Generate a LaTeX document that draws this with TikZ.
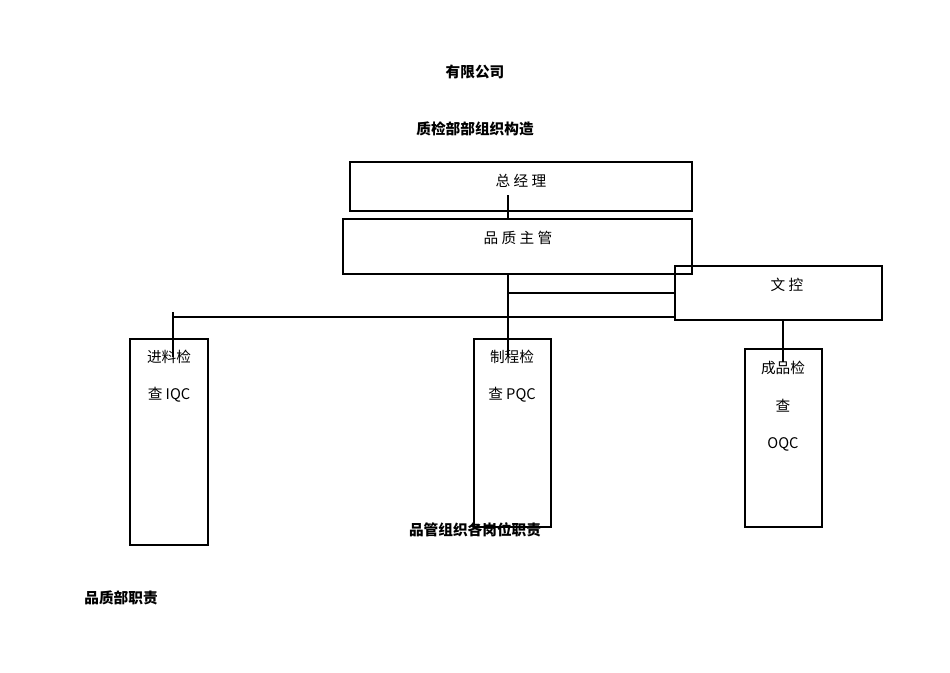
\documentclass[tikz,border=0pt]{standalone}
\usepackage{fontspec}
\setmainfont{Noto Sans CJK SC}
\begin{document}
\begin{tikzpicture}[x=0.75pt,y=-0.75pt,
  box/.style={draw,line width=2.2pt},
  ln/.style={line width=2.2pt},
  lbl/.style={font=\fontsize{11}{13}\selectfont},
  ttl/.style={font=\fontsize{11}{13}\selectfont\bfseries}]
\useasboundingbox[fill=white] (0,0) rectangle (950,672);
\draw[box] (350,162) rectangle (692,211);
\draw[box] (343,219) rectangle (692,274);
\draw[box] (675,266) rectangle (882,320);
\draw[box] (130,339) rectangle (208,545);
\draw[box] (474,339) rectangle (551,527);
\draw[box] (745,349) rectangle (822,527);
\coordinate (a1) at (508,195); \coordinate (a2) at (508,219);
\coordinate (b1) at (508,274); \coordinate (b2) at (508,357);
\coordinate (c1) at (508,293); \coordinate (c2) at (675,293);
\coordinate (d1) at (173,317); \coordinate (d2) at (675,317);
\coordinate (e1) at (173,312); \coordinate (e2) at (173,357);
\coordinate (f1) at (783,320); \coordinate (f2) at (783,362);
\draw[ln] (a1)--(a2); \draw[ln] (b1)--(b2); \draw[ln] (c1)--(c2);
\draw[ln] (d1)--(d2); \draw[ln] (e1)--(e2); \draw[ln] (f1)--(f2);
\node[lbl] (t1) at (521,181) {总 经 理};
\node[lbl] (t2) at (518,238) {品 质 主 管};
\node[lbl] (t3) at (787,285) {文 控};
\node[lbl] (t4) at (169,357) {进料检};
\node[lbl] (t5) at (169,395) {查 IQC};
\node[lbl] (t6) at (512,357) {制程检};
\node[lbl] (t7) at (512,395) {查 PQC};
\node[lbl] (t8) at (783,368) {成品检};
\node[lbl] (t9) at (783,406) {查};
\node[lbl] (t10) at (783,444) {OQC};
\node[ttl] (h1) at (475,72) {有限公司};
\node[ttl] (h2) at (475,129) {质检部部组织构造};
\node[ttl] (h3) at (475,530) {品管组织各岗位职责};
\node[ttl] (h4) at (121,598) {品质部职责};
\end{tikzpicture}
\end{document}
